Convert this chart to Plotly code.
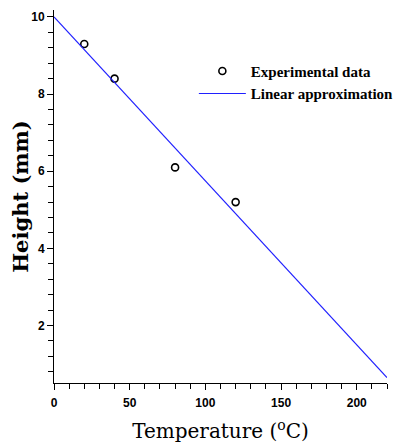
import plotly.graph_objects as go

exp_T = [20, 40, 80, 120]
exp_H = [9.3, 8.4, 6.1, 5.2]
line_T = [0, 220]
line_H = [10.0, 0.65]

fig = go.Figure()
fig.add_trace(go.Scatter(x=exp_T, y=exp_H, mode="markers", name="Experimental data",
                         marker=dict(symbol="circle-open", size=7, color="black", line=dict(width=1.6))))
fig.add_trace(go.Scatter(x=line_T, y=line_H, mode="lines", name="Linear approximation",
                         line=dict(color="#2020ff", width=1.2)))

tickfont = dict(family="Liberation Sans", size=12, color="black", weight="bold")
serif = "DejaVu Serif"
fig.update_layout(
    width=397, height=436,
    margin=dict(l=46, r=18, t=2, b=61, autoexpand=False),
    paper_bgcolor="white", plot_bgcolor="white",
    showlegend=True,
    legend=dict(x=0.42, y=0.88, xanchor="left", yanchor="top",
                font=dict(family="Liberation Serif", size=15, color="black", weight="bold"),
                bgcolor="rgba(0,0,0,0)", itemwidth=47, tracegroupgap=0),
    xaxis=dict(range=[0, 220], tickvals=[0, 50, 100, 150, 200], ticks="outside", ticklen=6,
               tickcolor="black", tickwidth=1, showline=True, linecolor="black", linewidth=1,
               showgrid=False, zeroline=False, tickfont=tickfont, automargin=False,
               ticklabelstandoff=3,
               minor=dict(dtick=10, tick0=0, ticks="outside", ticklen=5, tickcolor="black", showgrid=False),
               title=dict(text="Temperature (<sup>o</sup>C)", font=dict(family=serif, size=20, color="black"), standoff=14)),
    yaxis=dict(range=[0.51, 10.18], tickvals=[2, 4, 6, 8, 10], ticks="outside", ticklen=6,
               tickcolor="black", tickwidth=1, showline=True, linecolor="black", linewidth=1,
               showgrid=False, zeroline=False, tickfont=tickfont, automargin=False,
               minor=dict(dtick=0.4, tick0=0, ticks="outside", ticklen=5, tickcolor="black", showgrid=False),
               title=dict(text="Height (mm)", font=dict(family=serif, size=21, color="black", weight="bold"), standoff=3)),
)
fig.write_html("out.html")
